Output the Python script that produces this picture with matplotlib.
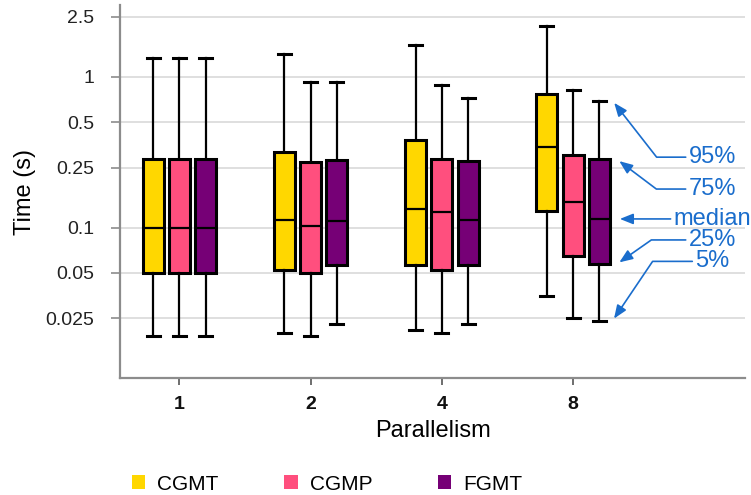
import matplotlib
matplotlib.use("Agg")
import matplotlib.pyplot as plt
from matplotlib.patches import Patch

plt.rcParams["font.family"] = ["Liberation Sans", "DejaVu Sans"]

# data (seconds): 5%, 25%, median, 75%, 95%
parallelism = ["1", "2", "4", "8"]
series = ["CGMT", "CGMP", "FGMT"]
colors = ["#FFD700", "#FF4F7E", "#760076"]

p5 = {
    "CGMT": [0.019, 0.020, 0.021, 0.035],
    "CGMP": [0.019, 0.019, 0.020, 0.025],
    "FGMT": [0.019, 0.023, 0.023, 0.024],
}
p25 = {
    "CGMT": [0.050, 0.052, 0.0565, 0.129],
    "CGMP": [0.050, 0.050, 0.0526, 0.0645],
    "FGMT": [0.050, 0.0565, 0.0565, 0.0573],
}
p50 = {
    "CGMT": [0.100, 0.112, 0.133, 0.343],
    "CGMP": [0.100, 0.102, 0.126, 0.148],
    "FGMT": [0.100, 0.110, 0.112, 0.114],
}
p75 = {
    "CGMT": [0.285, 0.316, 0.380, 0.766],
    "CGMP": [0.285, 0.273, 0.284, 0.301],
    "FGMT": [0.285, 0.279, 0.277, 0.283],
}
p95 = {
    "CGMT": [1.33, 1.42, 1.62, 2.16],
    "CGMP": [1.33, 0.92, 0.88, 0.82],
    "FGMT": [1.33, 0.92, 0.72, 0.695],
}

yticks = [0.025, 0.05, 0.1, 0.25, 0.5, 1, 2.5]
ytick_labels = ["0.025", "0.05", "0.1", "0.25", "0.5", "1", "2.5"]

fig = plt.figure(figsize=(7.51, 4.95), dpi=100)
ax = fig.add_axes([0.160, 0.236, 0.832, 0.754])

offsets = [-0.2, 0.0, 0.2]
for s, name in enumerate(series):
    stats = []
    for i in range(len(parallelism)):
        stats.append({
            "whislo": p5[name][i], "q1": p25[name][i], "med": p50[name][i],
            "q3": p75[name][i], "whishi": p95[name][i], "fliers": [],
        })
    pos = [i + offsets[s] for i in range(len(parallelism))]
    ax.bxp(stats, positions=pos, widths=0.16, capwidths=0.1,
           patch_artist=True, showfliers=False,
           boxprops=dict(facecolor=colors[s], edgecolor="black", linewidth=2.2),
           whiskerprops=dict(color="black", linewidth=1.6),
           capprops=dict(color="black", linewidth=2.2),
           medianprops=dict(color="black", linewidth=1.6),
           zorder=3)

ax.set_yscale("log")
ax.set_ylim(0.01, 3.0)
ax.set_xlim(-0.452, 4.31)
ax.set_yticks(yticks)
ax.set_yticklabels(ytick_labels)
ax.minorticks_off()
ax.set_xticks(range(len(parallelism)))
ax.set_xticklabels(parallelism, fontweight="bold")

ax.grid(axis="y", color="#d9d9d9", linewidth=1.2, zorder=0)
ax.set_axisbelow(True)
for side in ["top", "right"]:
    ax.spines[side].set_visible(False)
for side in ["left", "bottom"]:
    ax.spines[side].set_color("#8c8c8c")
    ax.spines[side].set_linewidth(1.6)

ax.tick_params(axis="y", labelsize=14, length=6.5, pad=12, color="#8c8c8c",
               width=1.2, labelcolor="#222222")
ax.tick_params(axis="x", labelsize=14, length=5, pad=8, color="#555555",
               width=1.2, labelcolor="#111111")
ax.set_ylabel("Time (s)", fontsize=17, labelpad=7)
ax.set_xlabel("Parallelism", fontsize=17, labelpad=5)

# explanatory callouts on the last FGMT box
blue = "#1a6dcc"
last = len(parallelism) - 1 + offsets[2]
callouts = [
    ("95%", p95["FGMT"][-1], 0.10, 0.293, -52),
    ("75%", p75["FGMT"][-1], 0.135, 0.180, -37),
    ("median", p50["FGMT"][-1], 0.135, p50["FGMT"][-1], None),
    ("25%", p25["FGMT"][-1], 0.135, 0.0827, 35),
    ("5%", p5["FGMT"][-1], 0.10, 0.0596, 56),
]
for label, val, dx, ty, ang in callouts:
    if ang is None:
        cs = "arc3,rad=0"
    else:
        cs = "angle,angleA=0,angleB=%d,rad=0" % ang
    ax.annotate(label, xy=(last + dx, val), xytext=(4.06, ty),
                textcoords="data", ha="center", va="center",
                fontsize=17, color=blue,
                arrowprops=dict(arrowstyle="-|>,head_length=0.5,head_width=0.2",
                                color=blue, linewidth=1.2, connectionstyle=cs,
                                mutation_scale=16, shrinkA=0, shrinkB=2))

handles = [Patch(facecolor=c, edgecolor="none") for c in colors]
fig.legend(handles, series, loc="center left", bbox_to_anchor=(0.176, 0.022),
           ncol=3, frameon=False, fontsize=15, handlelength=0.63,
           handleheight=0.63, handletextpad=0.58, columnspacing=3.15,
           borderpad=0, borderaxespad=0)

fig.savefig("out.png", dpi=100)
